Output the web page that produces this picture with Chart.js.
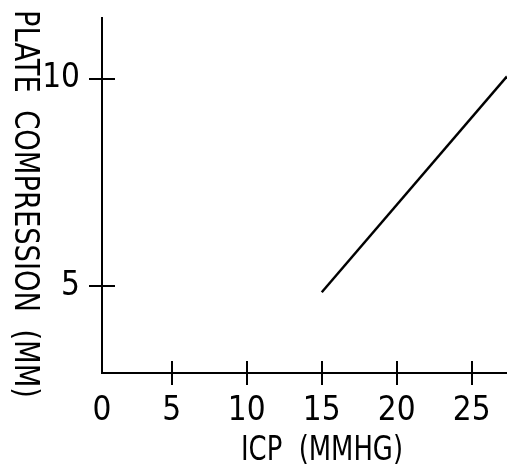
<!DOCTYPE html>
<html>
<head>
<meta charset="utf-8">
<script src="https://cdn.jsdelivr.net/npm/chart.js@4.4.1/dist/chart.umd.min.js"></script>
<style>
  html, body { margin: 0; padding: 0; background: #fff; }
  #wrap { width: 507px; height: 472px; }
</style>
</head>
<body>
<div id="wrap"><canvas id="grafico"></canvas></div>
<script>
// datos del grafico
const lineaX = [15, 27.35]
const lineaY = [4.85, 10.06]

const xTicks = [0.35, 5, 10, 15, 20, 25]
const xTickLabels = ['0', '5', '10', '15', '20', '25']
const yTicks = [5, 10]
const yTickLabels = ['5', '10']

const xMin = 0.35, xMax = 27.35
const yMin = 2.9, yMax = 11.47

const tituloX = 'ICP  (MMHG)'
const tituloY = 'PLATE  COMPRESSION  (MM)'

const fuente = "'DejaVu Sans Condensed', 'Liberation Sans Narrow', sans-serif"

// texto angosto: se comprime a lo ancho hasta el largo pedido
function textoAngosto(ctx, texto, largo) {
  const w = ctx.measureText(texto).width
  const k = Math.min(1, largo / w)
  ctx.scale(k, 1)
  ctx.fillText(texto, 0, 0)
  ctx.scale(1 / k, 1)
}

// marcas que cruzan el eje y los titulos
const marcasPlugin = {
  id: 'marcas',
  afterDraw(chart) {
    const ctx = chart.ctx
    const sx = chart.scales.x, sy = chart.scales.y
    const area = chart.chartArea
    ctx.save()
    ctx.strokeStyle = '#000'
    ctx.lineWidth = 2
    xTicks.slice(1).forEach(v => {
      const px = Math.round(sx.getPixelForValue(v))
      ctx.beginPath()
      ctx.moveTo(px, area.bottom - 12)
      ctx.lineTo(px, area.bottom + 12)
      ctx.stroke()
    })
    yTicks.forEach(v => {
      const py = Math.round(sy.getPixelForValue(v))
      ctx.beginPath()
      ctx.moveTo(area.left - 13, py)
      ctx.lineTo(area.left + 13, py)
      ctx.stroke()
    })
    ctx.fillStyle = '#000'
    ctx.textAlign = 'center'
    ctx.textBaseline = 'middle'

    ctx.save()
    ctx.font = '33px ' + fuente
    ctx.translate(322, 451)
    textoAngosto(ctx, tituloX, 162)
    ctx.restore()

    ctx.save()
    ctx.font = '34px ' + fuente
    ctx.translate(24, 204)
    ctx.rotate(Math.PI / 2)
    textoAngosto(ctx, tituloY, 388)
    ctx.restore()

    ctx.restore()
  }
}

const ctx = document.getElementById('grafico').getContext('2d')
new Chart(ctx, {
  type: 'scatter',
  data: {
    datasets: [{
      data: lineaX.map((x, i) => ({ x: x, y: lineaY[i] })),
      showLine: true,
      borderColor: '#000',
      borderWidth: 2.5,
      pointRadius: 0,
      fill: false
    }]
  },
  options: {
    responsive: true,
    maintainAspectRatio: false,
    animation: false,
    layout: { padding: { top: 18, right: 0, left: 0, bottom: 0 } },
    plugins: { legend: { display: false }, tooltip: { enabled: false } },
    scales: {
      x: {
        type: 'linear',
        min: xMin,
        max: xMax,
        afterBuildTicks: s => { s.ticks = xTicks.map(v => ({ value: v })) },
        afterFit: s => { s.height = 99; s.paddingLeft = 0; s.paddingRight = 0 },
        grid: { display: false },
        border: { display: true, color: '#000', width: 2 },
        ticks: {
          color: '#000',
          padding: 11,
          maxRotation: 0,
          autoSkip: false,
          font: { family: fuente, size: 33 },
          callback: (v) => xTickLabels[xTicks.indexOf(v)]
        }
      },
      y: {
        type: 'linear',
        min: yMin,
        max: yMax,
        afterBuildTicks: s => { s.ticks = yTicks.map(v => ({ value: v })) },
        afterFit: s => { s.width = 102; s.paddingTop = 0; s.paddingBottom = 0 },
        grid: { display: false },
        border: { display: true, color: '#000', width: 2 },
        ticks: {
          color: '#000',
          padding: 14,
          font: { family: fuente, size: 33 },
          callback: (v) => yTickLabels[yTicks.indexOf(v)]
        }
      }
    }
  },
  plugins: [marcasPlugin]
})
</script>
</body>
</html>
